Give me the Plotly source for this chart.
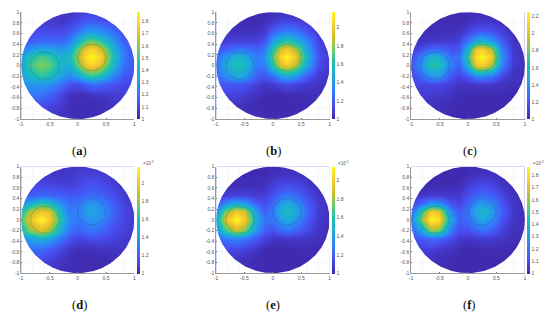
import numpy as np
import plotly.graph_objects as go

W, H = 550, 317

# Field sample positions (normalised disk coordinates)
grid_x = [-1, -.85, -.65, -.5, -.3, -.15, 0, .15, .25, .4, .6, .8, 1]
grid_y = [-1, -.75, -.55, -.35, -.2, 0, .15, .3, .45, .65, .85, 1]

# Field levels, percent of each colour scale, bottom row first
level_a = [
    [5, 5, 5, 5, 4, 3, 3, 3, 3, 3, 3, 3, 3],
    [15, 15, 12, 10, 6, 3, 2, 2, 2, 3, 4, 5, 5],
    [25, 25, 22, 18, 10, 4, 3, 3, 4, 5, 7, 8, 8],
    [30, 32, 34, 32, 22, 14, 12, 18, 22, 20, 14, 11, 10],
    [36, 46, 54, 50, 36, 30, 38, 50, 54, 48, 30, 16, 12],
    [38, 56, 68, 62, 46, 42, 65, 85, 90, 80, 48, 24, 14],
    [36, 52, 60, 56, 44, 48, 72, 95, 100, 90, 54, 26, 14],
    [26, 32, 40, 38, 34, 38, 65, 85, 90, 80, 48, 24, 12],
    [15, 17, 20, 20, 20, 26, 45, 60, 64, 56, 36, 18, 10],
    [10, 11, 12, 12, 11, 14, 24, 32, 34, 30, 22, 12, 8],
    [8, 8, 8, 7, 5, 7, 11, 15, 15, 14, 10, 7, 6],
    [7, 7, 7, 6, 5, 6, 8, 9, 9, 9, 7, 6, 6],
]
level_b = [
    [3, 3, 3, 3, 3, 3, 3, 3, 3, 3, 3, 3, 3],
    [5, 5, 4, 3, 2, 1, 1, 1, 1, 2, 2, 2, 2],
    [10, 10, 9, 7, 4, 2, 1, 1, 2, 2, 3, 3, 3],
    [15, 15, 15, 14, 9, 5, 7, 10, 12, 10, 6, 5, 4],
    [20, 30, 40, 38, 18, 14, 22, 36, 40, 34, 16, 7, 5],
    [24, 40, 52, 48, 26, 26, 55, 80, 85, 74, 38, 12, 6],
    [20, 34, 46, 44, 26, 30, 64, 92, 100, 85, 44, 14, 7],
    [14, 17, 24, 24, 18, 24, 55, 80, 85, 74, 38, 12, 6],
    [7, 8, 9, 9, 9, 14, 38, 50, 55, 46, 28, 10, 5],
    [4, 4, 4, 4, 4, 6, 18, 24, 26, 24, 14, 6, 4],
    [3, 3, 3, 2, 2, 3, 6, 9, 9, 8, 5, 3, 3],
    [2, 2, 2, 2, 2, 2, 3, 4, 4, 4, 3, 2, 2],
]
level_c = [
    [2, 2, 2, 2, 2, 2, 2, 2, 2, 2, 2, 2, 2],
    [4, 4, 3, 3, 2, 1, 1, 1, 1, 1, 1, 1, 1],
    [7, 7, 7, 6, 4, 2, 2, 2, 2, 2, 2, 2, 2],
    [10, 10, 11, 11, 8, 5, 5, 5, 6, 6, 4, 3, 3],
    [12, 18, 34, 33, 15, 10, 16, 28, 30, 24, 10, 4, 3],
    [14, 30, 54, 52, 26, 18, 46, 84, 88, 74, 26, 6, 4],
    [12, 24, 46, 44, 22, 22, 58, 92, 100, 86, 30, 7, 4],
    [8, 11, 20, 20, 14, 16, 46, 84, 88, 74, 26, 6, 4],
    [5, 5, 6, 7, 7, 10, 24, 40, 46, 36, 16, 5, 3],
    [3, 3, 3, 3, 3, 4, 9, 14, 16, 14, 8, 3, 2],
    [2, 2, 2, 2, 2, 2, 3, 5, 5, 5, 3, 2, 2],
    [2, 2, 2, 2, 2, 2, 2, 3, 3, 3, 2, 2, 2],
]
level_d = [
    [4, 4, 4, 4, 3, 3, 2, 2, 2, 2, 2, 2, 2],
    [15, 15, 12, 9, 5, 3, 2, 2, 2, 2, 3, 3, 3],
    [22, 22, 20, 16, 10, 5, 3, 3, 3, 4, 5, 5, 4],
    [30, 36, 44, 38, 22, 14, 10, 11, 13, 12, 9, 7, 5],
    [46, 66, 78, 70, 40, 24, 18, 22, 24, 20, 13, 9, 6],
    [58, 82, 100, 88, 50, 28, 24, 30, 34, 30, 18, 10, 7],
    [50, 72, 86, 80, 44, 26, 27, 36, 38, 34, 20, 11, 7],
    [30, 42, 56, 50, 30, 22, 24, 32, 34, 30, 18, 10, 6],
    [15, 17, 20, 20, 18, 16, 16, 20, 21, 19, 13, 8, 5],
    [10, 11, 11, 11, 9, 9, 11, 14, 14, 13, 9, 6, 4],
    [8, 8, 7, 6, 5, 6, 8, 9, 9, 8, 6, 4, 4],
    [6, 6, 6, 5, 5, 5, 6, 6, 6, 6, 5, 4, 4],
]
level_e = [
    [2, 2, 2, 2, 2, 2, 2, 2, 2, 2, 2, 2, 2],
    [6, 6, 5, 4, 2, 1, 1, 1, 1, 1, 2, 2, 2],
    [10, 11, 10, 8, 5, 2, 1, 1, 1, 2, 2, 2, 2],
    [18, 24, 28, 24, 15, 9, 5, 5, 6, 6, 5, 4, 3],
    [30, 56, 76, 66, 32, 18, 14, 20, 22, 18, 11, 5, 3],
    [40, 80, 100, 88, 42, 24, 24, 36, 42, 34, 16, 6, 4],
    [30, 66, 86, 80, 34, 18, 26, 44, 50, 42, 20, 7, 4],
    [15, 30, 42, 36, 18, 12, 22, 36, 42, 34, 17, 7, 4],
    [6, 8, 10, 10, 8, 8, 14, 22, 25, 21, 12, 5, 3],
    [3, 3, 3, 3, 3, 4, 9, 12, 13, 11, 7, 3, 2],
    [2, 2, 2, 2, 2, 2, 4, 5, 5, 5, 3, 2, 2],
    [2, 2, 2, 2, 2, 2, 2, 3, 3, 3, 2, 2, 2],
]
level_f = [
    [2, 2, 2, 2, 2, 2, 2, 2, 2, 2, 2, 2, 2],
    [5, 5, 4, 3, 2, 1, 1, 1, 1, 1, 1, 1, 1],
    [8, 9, 8, 6, 4, 2, 1, 1, 2, 2, 2, 2, 2],
    [13, 15, 20, 18, 11, 7, 5, 6, 7, 7, 5, 3, 2],
    [18, 34, 68, 64, 24, 13, 13, 18, 22, 18, 9, 4, 3],
    [26, 62, 100, 94, 36, 18, 22, 34, 40, 32, 14, 5, 3],
    [18, 50, 88, 80, 28, 16, 24, 40, 48, 38, 18, 6, 3],
    [9, 18, 34, 32, 14, 10, 20, 32, 36, 30, 14, 5, 3],
    [4, 6, 7, 7, 6, 7, 13, 19, 21, 19, 10, 4, 2],
    [2, 2, 2, 2, 2, 3, 8, 11, 12, 11, 6, 3, 2],
    [1, 1, 1, 1, 1, 1, 3, 4, 5, 4, 3, 1, 1],
    [1, 1, 1, 1, 1, 1, 2, 2, 2, 2, 1, 1, 1],
]

captions = ["a", "b", "c", "d", "e", "f"]
levels = [level_a, level_b, level_c, level_d, level_e, level_f]
scale_top = [1.875, 2.17, 2.25, 2.19, 2.15, 1.87]
bar_ticks = [
    [1, 1.1, 1.2, 1.3, 1.4, 1.5, 1.6, 1.7, 1.8],
    [1, 1.2, 1.4, 1.6, 1.8, 2],
    [1, 1.2, 1.4, 1.6, 1.8, 2, 2.2],
    [1, 1.2, 1.4, 1.6, 1.8, 2],
    [1, 1.2, 1.4, 1.6, 1.8, 2],
    [1, 1.1, 1.2, 1.3, 1.4, 1.5, 1.6, 1.7, 1.8],
]
has_exponent = [False, False, False, True, True, True]
y_ticks = [-1, -.8, -.6, -.4, -.2, 0, .2, .4, .6, .8, 1]
x_ticks = [-1, -.5, 0, .5, 1]
inclusion_x = [-.58, .25]
inclusion_y = [0, .15]
inclusion_r = [.255, .25]

parula_pos = [0, .127, .254, .381, .508, .635, .762, .889, 1]
parula = ["#3e26a8", "#484df0", "#327cfc", "#20a5e3", "#19bfb6",
          "#64cd6f", "#d1bf27", "#fccf30", "#f9fb15"]
colorscale = [[p, c] for p, c in zip(parula_pos, parula)]

# Pixel layout of the panels
col_left = [19.3, 215.7, 412.0]
col_right = [133.3, 330.0, 526.7]
bar_left = [136.0, 332.5, 529.3]
row_top = [9.3, 166.7]
row_bot = [118.3, 275.3]
caption_x = [78, 273, 471]
caption_y = [151, 308]
TICK = "#555555"
FONT = "Liberation Sans, Arial, sans-serif"

theta = np.linspace(0, 2 * np.pi, 241)
mask_x = np.concatenate([[1, 1, -1, -1, 1, 1], np.cos(-theta)])
mask_y = np.concatenate([[0, 1, 1, -1, -1, 0], np.sin(-theta)])

# faint grid, only visible outside the disk
gx, gy = [], []
for t in y_ticks[1:-1]:
    s = float(np.sqrt(1 - t * t))
    gx += [-1, -s, None, s, 1, None]
    gy += [t, t, None, t, t, None]
    gy += [-1, -s, None, s, 1, None]
    gx += [t, t, None, t, t, None]

fig = go.Figure()
layout = dict(
    width=W, height=H, margin=dict(l=0, r=0, t=0, b=0),
    paper_bgcolor="white", plot_bgcolor="white", showlegend=False,
    annotations=[], shapes=[],
)

for i in range(6):
    r, c = divmod(i, 3)
    n = i + 1
    sx = "" if n == 1 else str(n)
    lo, hi = 1.0, scale_top[i]
    z = lo + (hi - lo) * np.array(levels[i], dtype=float) / 100.0
    xa, ya = "x" + sx, "y" + sx

    fig.add_trace(go.Heatmap(
        x=grid_x, y=grid_y, z=z.tolist(), xaxis=xa, yaxis=ya,
        zmin=lo, zmax=hi, zsmooth="best", colorscale=colorscale,
        colorbar=dict(
            thickness=3, thicknessmode="pixels", outlinewidth=0, borderwidth=0,
            x=bar_left[c] / W, xanchor="left", xpad=0, ypad=0,
            y=1 - row_top[r] / H, yanchor="top",
            len=(row_bot[r] - row_top[r]) / H, lenmode="fraction",
            tickmode="array", tickvals=bar_ticks[i],
            ticktext=[f"{v:g}" for v in bar_ticks[i]],
            ticks="", ticklabelposition="outside",
            tickfont=dict(size=5, color=TICK, family=FONT),
        ),
    ))
    fig.add_trace(go.Scatter(
        x=mask_x.tolist(), y=mask_y.tolist(), xaxis=xa, yaxis=ya, mode="lines",
        line=dict(width=0), fill="toself", fillcolor="white", hoverinfo="skip",
    ))
    fig.add_trace(go.Scatter(
        x=gx, y=gy, xaxis=xa, yaxis=ya, mode="lines",
        line=dict(width=.5, color="#efefef"), hoverinfo="skip",
    ))

    common = dict(
        range=[-1, 1], showgrid=False, zeroline=False, showline=True,
        linecolor="#999999", linewidth=.6, ticks="inside", ticklen=1.5,
        tickwidth=.5, tickcolor="#777777", tickmode="array",
        tickfont=dict(size=5, color=TICK, family=FONT), layer="above traces",
    )
    layout["xaxis" + sx] = dict(
        common, domain=[col_left[c] / W, col_right[c] / W], anchor=ya,
        tickvals=x_ticks, ticktext=[f"{v:g}" for v in x_ticks],
    )
    layout["yaxis" + sx] = dict(
        common,
        domain=[1 - row_bot[r] / H, 1 - row_top[r] / H], anchor=xa,
        tickvals=y_ticks, ticktext=[f"{v:g}" for v in y_ticks],
    )

    for cx, cy, rad in zip(inclusion_x, inclusion_y, inclusion_r):
        layout["shapes"].append(dict(
            type="circle", xref=xa, yref=ya,
            x0=cx - rad, x1=cx + rad, y0=cy - rad, y1=cy + rad,
            line=dict(color="rgba(40,60,70,0.38)", width=.6), layer="above",
        ))

    layout["annotations"].append(dict(
        text=f"(<b>{captions[i]}</b>)", xref="paper", yref="paper",
        x=caption_x[c] / W, y=1 - caption_y[r] / H,
        xanchor="center", yanchor="middle", showarrow=False,
        font=dict(size=12.5, color="#111111", family="Liberation Serif, serif"),
    ))
    if has_exponent[i]:
        layout["annotations"].append(dict(
            text="×10<sup>-3</sup>", xref="paper", yref="paper",
            x=(bar_left[c] + 4) / W, y=1 - (row_top[r] - 3.5) / H,
            xanchor="left", yanchor="middle", showarrow=False,
            font=dict(size=4.5, color=TICK, family=FONT),
        ))

fig.update_layout(**layout)
fig.write_html("out.html", config=dict(displayModeBar=False),
               post_script="document.body.style.margin='0';document.body.style.overflow='hidden';")
